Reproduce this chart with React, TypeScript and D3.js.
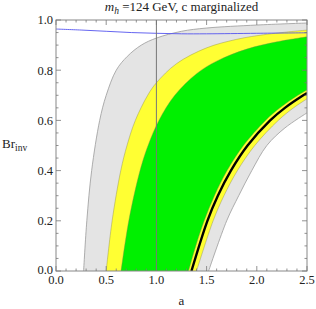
import * as d3 from 'd3';

type Pt = [number, number];

// region boundaries, as [a, Br_inv]
const grayLeft: Pt[] = [[0.275, 0], [0.307, 0.2], [0.355, 0.4], [0.435, 0.6], [0.5, 0.7], [0.6, 0.8], [0.71, 0.855], [0.85, 0.9], [1.0, 0.928], [1.25, 0.955], [1.5, 0.968], [2.0, 0.98], [2.5, 0.988]];
const grayRight: Pt[] = [[1.52, 0], [1.7, 0.2], [1.82, 0.3], [1.95, 0.4], [2.1, 0.5], [2.28, 0.57], [2.5, 0.63]];
const yellowLeft: Pt[] = [[0.5, 0], [0.559, 0.2], [0.645, 0.4], [0.707, 0.5], [0.79, 0.6], [0.913, 0.7], [1.0, 0.75], [1.2, 0.826], [1.5, 0.889], [1.8, 0.923], [2.1, 0.943], [2.5, 0.96]];
const yellowRight: Pt[] = [[1.4, 0], [1.565, 0.2], [1.673, 0.3], [1.807, 0.4], [1.98, 0.5], [2.214, 0.6], [2.366, 0.65], [2.5, 0.686]];
const greenLeft: Pt[] = [[0.648, 0], [0.725, 0.2], [0.837, 0.4], [0.917, 0.5], [1.025, 0.6], [1.183, 0.7], [1.4, 0.786], [1.6, 0.836], [1.9, 0.884], [2.2, 0.913], [2.5, 0.933]];
const greenRight: Pt[] = [[1.32, 0], [1.4, 0.11], [1.476, 0.2], [1.578, 0.3], [1.704, 0.4], [1.867, 0.5], [2.087, 0.6], [2.231, 0.65], [2.41, 0.7], [2.5, 0.721]];
const bestFit: Pt[] = [[1.349, 0], [1.508, 0.2], [1.612, 0.3], [1.742, 0.4], [1.908, 0.5], [2.133, 0.6], [2.28, 0.65], [2.463, 0.7], [2.5, 0.709]];
const blueLine: Pt[] = [[0, 0.964], [0.25, 0.96], [0.5, 0.955], [0.75, 0.95], [1.0, 0.947], [1.25, 0.945], [1.5, 0.945], [2.0, 0.947], [2.5, 0.949]];
const vLineA = 1.0;

const xTicks = [0, 0.5, 1.0, 1.5, 2.0, 2.5];
const yTicks = [0, 0.2, 0.4, 0.6, 0.8, 1.0];

export default function App() {
  const x = d3.scaleLinear().domain([0, 2.5]).range([56, 307]);
  const y = d3.scaleLinear().domain([0, 1]).range([271, 20]);

  const line = d3.line<Pt>()
    .x(d => x(d[0]))
    .y(d => y(d[1]))
    .curve(d3.curveCatmullRom);

  // closed shape: left/top edge out to the frame, then back down the right edge
  const region = (left: Pt[], right: Pt[]) =>
    line(left)! + line([...right].reverse())!.replace(/^M/, 'L') + 'Z';

  const xMinor = d3.range(0, 2.5001, 0.1);
  const yMinor = d3.range(0, 1.0001, 0.05);
  const [x0, x1] = x.range();
  const [y0, y1] = y.range();

  const serif = '"Liberation Serif", "Times New Roman", "DejaVu Serif", serif';

  return (
    <svg width={316} height={309} style={{ position: 'absolute', left: 0, top: 0, background: '#fff', fontFamily: serif }}>
      <defs>
        <clipPath id="plot">
          <rect x={x0} y={y1} width={x1 - x0} height={y0 - y1} />
        </clipPath>
      </defs>

      <g clipPath="url(#plot)">
        <path d={region(grayLeft, grayRight)} fill="#e4e4e4" />
        <path d={region(yellowLeft, yellowRight)} fill="#ffff33" />
        <path d={region(greenLeft, greenRight)} fill="#00f000" />

        {[grayLeft, grayRight].map((c, i) => (
          <path key={'g' + i} d={line(c)!} fill="none" stroke="#9a9a9a" strokeWidth={0.8} />
        ))}
        {[yellowLeft, yellowRight, greenLeft, greenRight].map((c, i) => (
          <path key={'c' + i} d={line(c)!} fill="none" stroke="#8a8a50" strokeWidth={0.6} strokeOpacity={0.7} />
        ))}

        <path d={line(bestFit)!} fill="none" stroke="#000" strokeWidth={2.4} />
        <path d={line(blueLine)!} fill="none" stroke="#5555ee" strokeWidth={0.9} />
        <line x1={x(vLineA)} x2={x(vLineA)} y1={y(0)} y2={y(1)} stroke="#777" strokeWidth={1} />
      </g>

      {/* frame and inward ticks on all four sides */}
      <rect x={x0} y={y1} width={x1 - x0} height={y0 - y1} fill="none" stroke="#888" strokeWidth={1} />
      <g stroke="#777" strokeWidth={0.8}>
        {xMinor.map((t, i) => {
          const len = xTicks.some(m => Math.abs(m - t) < 1e-6) ? 5 : 2.5;
          return (
            <g key={'xt' + i}>
              <line x1={x(t)} x2={x(t)} y1={y0} y2={y0 - len} />
              <line x1={x(t)} x2={x(t)} y1={y1} y2={y1 + len} />
            </g>
          );
        })}
        {yMinor.map((t, i) => {
          const len = yTicks.some(m => Math.abs(m - t) < 1e-6) ? 5 : 2.5;
          return (
            <g key={'yt' + i}>
              <line x1={x0} x2={x0 + len} y1={y(t)} y2={y(t)} />
              <line x1={x1} x2={x1 - len} y1={y(t)} y2={y(t)} />
            </g>
          );
        })}
      </g>

      <g fontSize={12.5} fill="#222">
        {xTicks.map(t => (
          <text key={'xl' + t} x={x(t)} y={284} textAnchor="middle">{t.toFixed(1)}</text>
        ))}
        {yTicks.map(t => (
          <text key={'yl' + t} x={x0 - 3} y={y(t) + (t === 0 ? 2.5 : 4.3)} textAnchor="end">{t.toFixed(1)}</text>
        ))}
      </g>

      <text x={(x0 + x1) / 2} y={11} textAnchor="middle" fontSize={13} fill="#222">
        <tspan fontStyle="italic">m</tspan>
        <tspan fontStyle="italic" fontSize={9.5} dy={2.5}>h</tspan>
        <tspan dy={-2.5}> =124 GeV, c marginalized</tspan>
      </text>

      <text x={2} y={148} fontSize={13} fill="#222">
        Br<tspan fontSize={9.5} dy={2.5}>inv</tspan>
      </text>

      <text x={(x0 + x1) / 2} y={305} textAnchor="middle" fontSize={13} fill="#222">a</text>
    </svg>
  );
}
